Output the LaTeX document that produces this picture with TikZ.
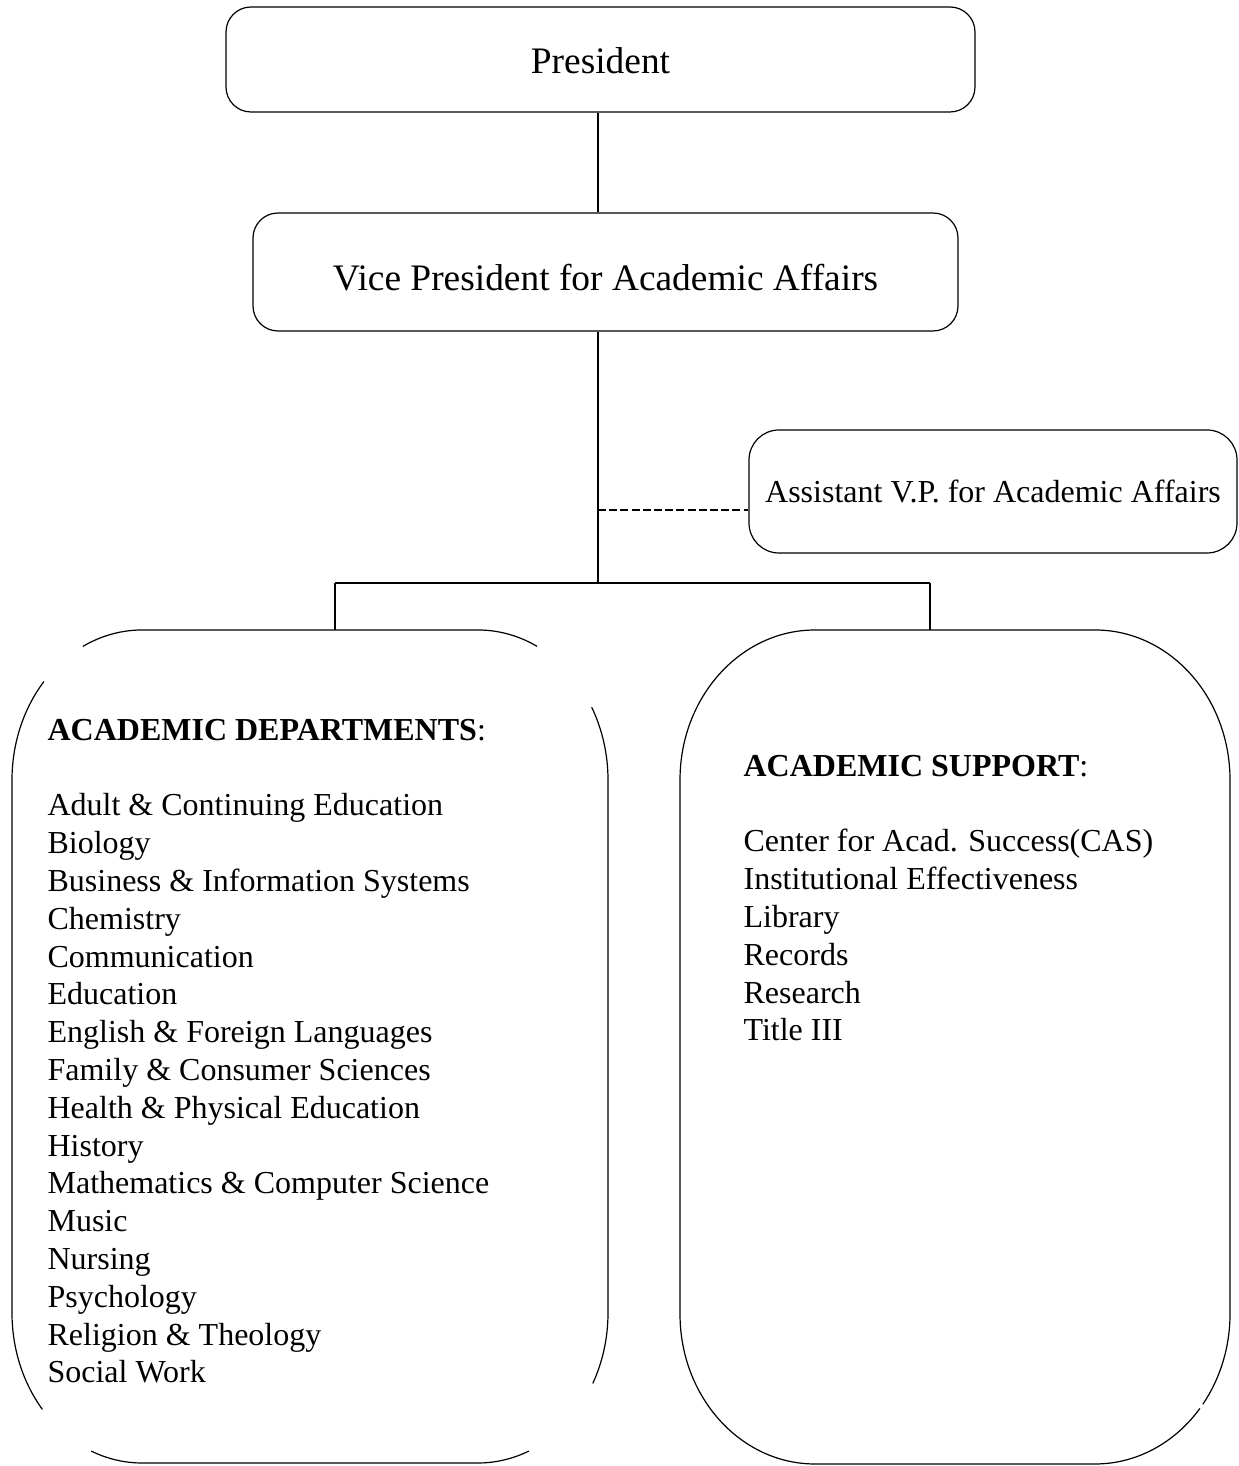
\documentclass[tikz,border=0pt]{standalone}
\usepackage{fontspec}
\setmainfont{Liberation Serif}
\begin{document}
\begin{tikzpicture}[x=0.5pt,y=0.5pt,line width=0.6pt,
  box/.style={draw,inner sep=0pt,align=center,font=\fontsize{18.7}{22}\selectfont},
  abox/.style={draw,inner sep=0pt,align=center,font=\fontsize{16}{19}\selectfont},
  area/.style={inner sep=0pt,outer sep=0pt},
  listtext/.style={anchor=base west,inner sep=0pt,align=left,font=\fontsize{16}{18.9}\selectfont},
  link/.style={line width=0.6pt},
  dashlink/.style={line width=0.6pt,dash pattern=on 4pt off 1.6pt}]
\useasboundingbox (0,0) rectangle (1238,1466);

% boxes
\node[box,rounded corners=12.5pt,minimum width=374.5pt,minimum height=52.5pt,text height=14.4pt,text depth=0pt] (pres) at (600.5,1406.5) {President};
\node[box,rounded corners=12.5pt,minimum width=352.5pt,minimum height=59pt,text height=18.4pt,text depth=0pt] (vp) at (605.5,1194) {Vice President for Academic Affairs};
\node[abox,rounded corners=15pt,minimum width=244pt,minimum height=61.5pt] (asst) at (993,974.5) {Assistant V.P. for Academic Affairs};
\node[area,minimum width=298pt,minimum height=416.5pt] (dept) at (310,419.5) {};
\node[area,minimum width=275pt,minimum height=417pt] (supp) at (955,419) {};

% left box outline (broken)
\draw ([shift={(117:65pt and 75pt)}]142,686) arc[start angle=117,end angle=90,x radius=65pt,y radius=75pt] -- (478,836) arc[start angle=90,end angle=63,x radius=65pt,y radius=75pt];
\draw ([shift={(139:65pt and 75pt)}]142,686) arc[start angle=139,end angle=180,x radius=65pt,y radius=75pt] -- (12,153) arc[start angle=180,end angle=220,x radius=65pt,y radius=75pt];
\draw ([shift={(29:65pt and 75pt)}]478,686) arc[start angle=29,end angle=0,x radius=65pt,y radius=75pt] -- (608,153) arc[start angle=0,end angle=-28,x radius=65pt,y radius=75pt];
\draw ([shift={(247:65pt and 75pt)}]142,153) arc[start angle=247,end angle=270,x radius=65pt,y radius=75pt] -- (478,3) arc[start angle=270,end angle=293,x radius=65pt,y radius=75pt];

% right box outline
\draw ([shift={(-39:67.5pt and 75pt)}]1095,152) arc[start angle=-39,end angle=-90,x radius=67.5pt,y radius=75pt] -- (815,2)
  arc[start angle=270,end angle=180,x radius=67.5pt,y radius=75pt] -- (680,686)
  arc[start angle=180,end angle=90,x radius=67.5pt,y radius=75pt] -- (1095,836)
  arc[start angle=90,end angle=0,x radius=67.5pt,y radius=75pt] -- (1230,152)
  arc[start angle=0,end angle=-37,x radius=67.5pt,y radius=75pt];

% texts (base anchor = last line's baseline)
\node[listtext] (deptlist) at (47,83) {\textbf{ACADEMIC DEPARTMENTS}:\\[18.9pt]
Adult \& Continuing Education\\
Biology\\
Business \& Information Systems\\
Chemistry\\
Communication\\
Education\\
English \& Foreign Languages\\
Family \& Consumer Sciences\\
Health \& Physical Education\\
History\\
Mathematics \& Computer Science\\
Music\\
Nursing\\
Psychology\\
Religion \& Theology\\
Social Work};
\node[listtext] (supplist) at (743,425) {\textbf{ACADEMIC SUPPORT}:\\[18.9pt]
Center for Acad. Success(CAS)\\
Institutional Effectiveness\\
Library\\
Records\\
Research\\
Title III};

% connectors
\coordinate (j) at (598,883);
\coordinate (jl) at (335,883);
\coordinate (jr) at (930,883);
\coordinate (dj) at (598,956);
\draw[link] (pres.south -| j) -- (vp.north -| j);
\draw[link] (vp.south -| j) -- (j);
\draw[link] (jl) -- (jr);
\draw[link] (jl) -- (jl |- dept.north);
\draw[link] (jr) -- (jr |- supp.north);
\draw[dashlink] (dj) -- (dj -| asst.west);
\end{tikzpicture}
\end{document}
